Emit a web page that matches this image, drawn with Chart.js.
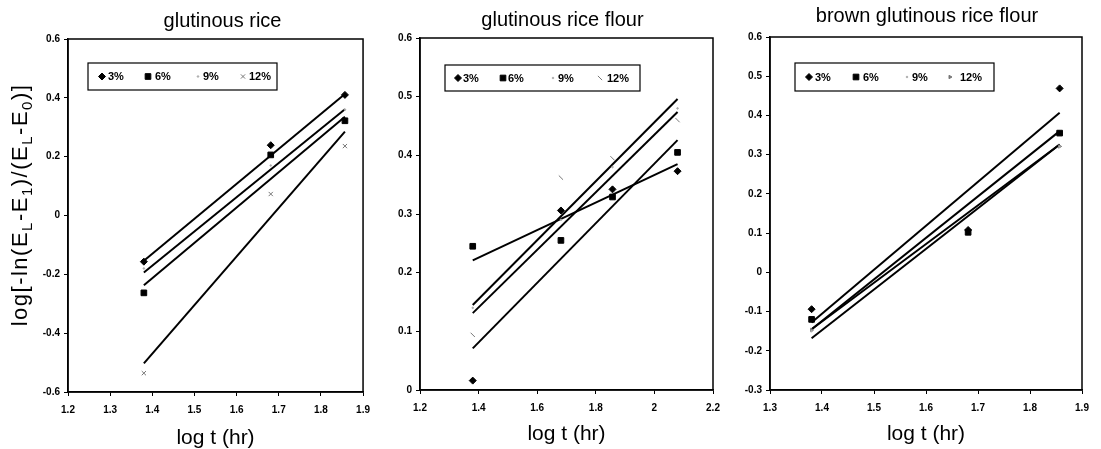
<!DOCTYPE html>
<html>
<head>
<meta charset="utf-8">
<script src="https://cdn.jsdelivr.net/npm/chart.js@4.4.1/dist/chart.umd.min.js"></script>
<style>
  body { margin: 0; background: #fff; }
  #wrap { position: relative; width: 1101px; height: 449px; background: #fff; overflow: hidden; }
  .panel { position: absolute; top: 0; height: 449px; }
</style>
</head>
<body>
<div id="wrap">
  <div class="panel" style="left:0px"><canvas id="rice" width="378" height="449"></canvas></div>
  <div class="panel" style="left:378px"><canvas id="flour" width="357" height="449"></canvas></div>
  <div class="panel" style="left:735px"><canvas id="brown" width="366" height="449"></canvas></div>
</div>
<script>
const seriesLabels = ['3%', '6%', '9%', '12%'];

// glutinous rice
const riceLogT = [1.380, 1.681, 1.857];
const rice3 = [-0.157, 0.239, 0.410];
const rice6 = [-0.263, 0.206, 0.322];
const rice9 = [-0.180, 0.170, 0.360];
const rice12 = [-0.536, 0.073, 0.236];
const riceFitX = [1.380, 1.857];
const riceFit3 = [-0.154, 0.413];
const riceFit6 = [-0.237, 0.336];
const riceFit9 = [-0.194, 0.361];
const riceFit12 = [-0.503, 0.285];
const riceXTicks = [1.2, 1.3, 1.4, 1.5, 1.6, 1.7, 1.8, 1.9];
const riceYTicks = [-0.6, -0.4, -0.2, 0, 0.2, 0.4, 0.6];

// glutinous rice flour
const flourLogT = [1.380, 1.681, 1.857, 2.079];
const flour3 = [0.016, 0.306, 0.342, 0.373];
const flour6 = [0.245, 0.255, 0.329, 0.405];
const flour9 = [0.140, 0.290, 0.380, 0.480];
const flour12 = [0.094, 0.362, 0.395, 0.460];
const flourFitX = [1.380, 2.079];
const flourFit3 = [0.071, 0.426];
const flourFit6 = [0.221, 0.385];
const flourFit9 = [0.131, 0.474];
const flourFit12 = [0.145, 0.496];
const flourXTicks = [1.2, 1.4, 1.6, 1.8, 2, 2.2];
const flourYTicks = [0, 0.1, 0.2, 0.3, 0.4, 0.5, 0.6];

// brown glutinous rice flour
const brownLogT = [1.380, 1.681, 1.857];
const brown3 = [-0.094, 0.108, 0.469];
const brown6 = [-0.120, 0.102, 0.355];
const brown9 = [-0.150, 0.110, 0.320];
const brown12 = [-0.147, 0.100, 0.321];
const brownFitX = [1.380, 1.857];
const brownFit3 = [-0.128, 0.407];
const brownFit6 = [-0.145, 0.360];
const brownFit9 = [-0.145, 0.326];
const brownFit12 = [-0.168, 0.326];
const brownXTicks = [1.3, 1.4, 1.5, 1.6, 1.7, 1.8, 1.9];
const brownYTicks = [-0.3, -0.2, -0.1, 0, 0.1, 0.2, 0.3, 0.4, 0.5, 0.6];

const FONT = '"Liberation Sans", Arial, sans-serif';
Chart.defaults.font.family = FONT;
Chart.defaults.color = '#000';

const toPts = (xs, ys) => xs.map((x, i) => ({ x: x, y: ys[i] }));

function drawMark(ctx, ds, x, y) {
  ctx.fillStyle = ds.backgroundColor;
  ctx.strokeStyle = ds.borderColor;
  ctx.lineWidth = ds.borderWidth;
  if (Chart.helpers && Chart.helpers.drawPoint) {
    Chart.helpers.drawPoint(ctx, {
      pointStyle: ds.pointStyle, radius: ds.pointRadius,
      rotation: ds.pointRotation || 0, borderWidth: ds.borderWidth
    }, x, y);
  } else {
    ctx.fillRect(x - 2, y - 2, 4, 4);
  }
}

// frame, title, legend box and (first panel) the y axis title
const panelDeco = {
  id: 'panelDeco',
  afterDraw(chart, args, opts) {
    const ctx = chart.ctx;
    const a = chart.chartArea;
    ctx.save();
    ctx.strokeStyle = '#000';
    ctx.lineWidth = 1.5;
    ctx.strokeRect(a.left, a.top, a.right - a.left, a.bottom - a.top);

    ctx.fillStyle = '#000';
    ctx.font = '20px ' + FONT;
    ctx.textAlign = 'center';
    ctx.textBaseline = 'alphabetic';
    ctx.fillText(opts.title, (a.left + a.right) / 2 + opts.titleDx, opts.titleY);

    const L = opts.legend;
    const bx = a.left + L.dx, by = a.top + L.dy;
    ctx.lineWidth = 1.2;
    ctx.strokeRect(bx, by, L.w, L.h);
    const cy = by + L.h / 2;
    seriesLabels.forEach((lab, i) => {
      const ds = chart.data.datasets[i];
      drawMark(ctx, ds, bx + L.marks[i], cy);
      ctx.fillStyle = '#000';
      ctx.font = 'bold 11px ' + FONT;
      ctx.textAlign = 'left';
      ctx.textBaseline = 'middle';
      ctx.fillText(lab, bx + L.texts[i], cy + 0.5);
    });

    if (opts.yTitle) {
      const segs = opts.yTitle;
      ctx.fillStyle = '#000';
      ctx.textAlign = 'left';
      ctx.textBaseline = 'alphabetic';
      if ('letterSpacing' in ctx) ctx.letterSpacing = '1.5px';
      let total = 0;
      segs.forEach(s => {
        ctx.font = (s[1] ? '15px ' : '22px ') + FONT;
        total += ctx.measureText(s[0]).width;
      });
      ctx.translate(opts.yTitleX, opts.yTitleCy + total / 2);
      ctx.rotate(-Math.PI / 2);
      let x = 0;
      segs.forEach(s => {
        ctx.font = (s[1] ? '15px ' : '22px ') + FONT;
        ctx.fillText(s[0], x, s[1] ? 5 : 0);
        x += ctx.measureText(s[0]).width;
      });
    }
    ctx.restore();
  }
};

function makeChart(id, d, cfg) {
  const mark = (label, data, style) => Object.assign({
    label: label, data: data, showLine: false,
    backgroundColor: '#000', borderColor: '#000', borderWidth: 1
  }, style);
  const fit = (ys) => ({
    label: 'fit', data: toPts(d.fitX, ys), showLine: true,
    borderColor: '#000', borderWidth: 2, pointRadius: 0, fill: false
  });
  const datasets = [
    mark('3%', toPts(d.x, d.s3), { pointStyle: 'rectRot', pointRadius: 3.5 }),
    mark('6%', toPts(d.x, d.s6), { pointStyle: 'rect', pointRadius: 4 }),
    mark('9%', toPts(d.x, d.s9), { pointStyle: 'circle', pointRadius: 0.8, backgroundColor: '#aaa', borderColor: '#aaa' }),
    mark('12%', toPts(d.x, d.s12), Object.assign({ backgroundColor: '#777', borderColor: '#777' }, cfg.mark12)),
    fit(d.f3), fit(d.f6), fit(d.f9), fit(d.f12)
  ];
  const fmt = v => String(Math.round(v * 10) / 10);
  return new Chart(document.getElementById(id), {
    type: 'scatter',
    data: { datasets: datasets },
    options: {
      responsive: false,
      animation: false,
      events: [],
      layout: { padding: { top: cfg.top, right: cfg.right, left: 0, bottom: 0 } },
      plugins: {
        legend: { display: false },
        tooltip: { enabled: false },
        panelDeco: cfg.deco
      },
      scales: {
        x: {
          type: 'linear', min: d.xTicks[0], max: d.xTicks[d.xTicks.length - 1],
          afterBuildTicks: s => { s.ticks = d.xTicks.map(v => ({ value: v })); },
          afterFit: s => { s.height = cfg.xH; },
          grid: { display: true, drawOnChartArea: false, color: '#000', tickLength: 4 },
          border: { display: true, color: '#000', width: 1.5 },
          ticks: { font: { size: 10, weight: 'bold' }, padding: 8, maxRotation: 0, callback: fmt },
          title: { display: true, text: 'log t (hr)', font: { size: 21, lineHeight: 1 }, padding: { top: 0, bottom: cfg.xTitlePad } }
        },
        y: {
          type: 'linear', min: d.yTicks[0], max: d.yTicks[d.yTicks.length - 1],
          afterBuildTicks: s => { s.ticks = d.yTicks.map(v => ({ value: v })); },
          afterFit: s => { s.width = cfg.yW; },
          grid: { display: true, drawOnChartArea: false, color: '#000', tickLength: 4 },
          border: { display: true, color: '#000', width: 1.5 },
          ticks: { font: { size: 10, weight: 'bold' }, padding: 4, callback: fmt }
        }
      }
    },
    plugins: [panelDeco]
  });
}

makeChart('rice', {
  x: riceLogT, s3: rice3, s6: rice6, s9: rice9, s12: rice12,
  fitX: riceFitX, f3: riceFit3, f6: riceFit6, f9: riceFit9, f12: riceFit12,
  xTicks: riceXTicks, yTicks: riceYTicks
}, {
  top: 39, right: 10, yW: 68, xH: 57, xTitlePad: 0,
  mark12: { pointStyle: 'crossRot', pointRadius: 3 },
  deco: {
    title: 'glutinous rice', titleDx: 7, titleY: 27,
    legend: { dx: 20, dy: 24, w: 189, h: 27, marks: [14, 60, 110, 155], texts: [20, 67, 115, 161] },
    yTitle: [['log[-ln(E', 0], ['L', 1], ['-E', 0], ['1', 1], [')/(E', 0], ['L', 1], ['-E', 0], ['0', 1], [')]', 0]],
    yTitleX: 27, yTitleCy: 205
  }
});

makeChart('flour', {
  x: flourLogT, s3: flour3, s6: flour6, s9: flour9, s12: flour12,
  fitX: flourFitX, f3: flourFit3, f6: flourFit6, f9: flourFit9, f12: flourFit12,
  xTicks: flourXTicks, yTicks: flourYTicks
}, {
  top: 38, right: 22, yW: 42, xH: 59, xTitlePad: 4,
  mark12: { pointStyle: 'line', pointRadius: 3, pointRotation: 45 },
  deco: {
    title: 'glutinous rice flour', titleDx: -4, titleY: 26,
    legend: { dx: 25, dy: 27, w: 195, h: 26, marks: [13, 58, 108, 155], texts: [18, 63, 113, 162] }
  }
});

makeChart('brown', {
  x: brownLogT, s3: brown3, s6: brown6, s9: brown9, s12: brown12,
  fitX: brownFitX, f3: brownFit3, f6: brownFit6, f9: brownFit9, f12: brownFit12,
  xTicks: brownXTicks, yTicks: brownYTicks
}, {
  top: 37, right: 19, yW: 35, xH: 59, xTitlePad: 4,
  mark12: { pointStyle: 'triangle', pointRadius: 2, pointRotation: 90 },
  deco: {
    title: 'brown glutinous rice flour', titleDx: 1, titleY: 22,
    legend: { dx: 25, dy: 26, w: 199, h: 28, marks: [14, 61, 112, 155], texts: [20, 68, 117, 165] }
  }
});
</script>
</body>
</html>
